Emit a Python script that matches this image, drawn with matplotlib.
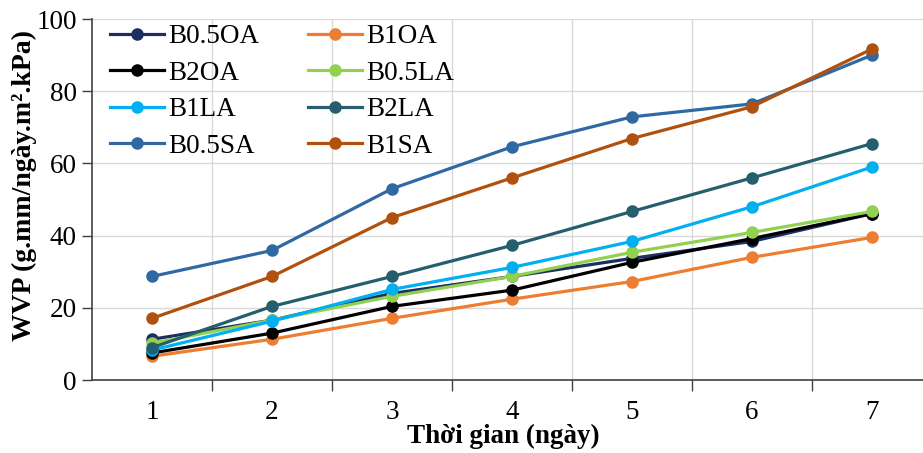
import numpy as np
import matplotlib
matplotlib.use("Agg")
import matplotlib.pyplot as plt

plt.rcParams['font.family'] = ['Liberation Serif', 'DejaVu Serif']

# Ngày đo và giá trị WVP của từng mẫu màng
days = [1, 2, 3, 4, 5, 6, 7]
series_names = ['B0.5OA', 'B1OA', 'B2OA', 'B0.5LA', 'B1LA', 'B2LA', 'B0.5SA', 'B1SA']

b05oa = [11.3, 16.6, 24.0, 28.7, 33.7, 38.4, 46.1]
b1oa = [6.6, 11.3, 17.1, 22.4, 27.3, 34.0, 39.5]
b2oa = [7.5, 13.0, 20.4, 24.9, 32.6, 39.2, 46.1]
b05la = [10.2, 16.6, 23.2, 28.7, 35.4, 40.9, 46.7]
b1la = [8.3, 16.3, 25.1, 31.2, 38.4, 48.0, 59.0]
b2la = [9.0, 20.4, 28.7, 37.3, 46.7, 56.0, 65.5]
b05sa = [28.7, 35.9, 53.0, 64.6, 72.9, 76.5, 90.0]
b1sa = [17.1, 28.7, 45.0, 56.0, 66.9, 75.7, 91.7]

colors = ['#1B2F63', '#ED7D31', '#000000', '#92D050',
          '#00B0F0', '#255E6C', '#2E69A3', '#B0510F']

values = [b05oa, b1oa, b2oa, b05la, b1la, b2la, b05sa, b1sa]

fig = plt.figure(figsize=(9.23, 4.53), dpi=100)
ax = fig.add_axes([0.0997, 0.161, 0.91, 0.797])

x = np.arange(len(days))
lines = []
for name, vals, c in zip(series_names, values, colors):
    ln, = ax.plot(x, vals, '-o', color=c, lw=2.3, ms=8, label=name)
    lines.append(ln)

# trục danh mục kiểu Excel: vạch chia nằm giữa các ngày
ax.set_xlim(-0.5, len(days) - 0.5)
ax.set_ylim(0, 100)
ax.set_yticks(np.arange(0, 101, 20))
ax.set_xticks(x)
ax.set_xticklabels([str(d) for d in days])
ax.set_xticks(np.arange(0.5, len(days) - 0.5, 1), minor=True)
ax.tick_params(axis='x', which='major', length=0, pad=14, labelsize=19.5)
ax.tick_params(axis='x', which='minor', length=8, width=1, color='#404040', direction='out')
ax.tick_params(axis='y', length=7, width=1, color='#404040', direction='out', labelsize=19.5, pad=4)

ax.grid(axis='y', color='#D9D9D9', lw=1)
ax.grid(axis='x', which='minor', color='#D9D9D9', lw=1)
ax.set_axisbelow(True)

for s in ['top', 'right']:
    ax.spines[s].set_visible(False)
for s in ['left', 'bottom']:
    ax.spines[s].set_color('#404040')
    ax.spines[s].set_linewidth(1.2)

ax.set_xlabel('Thời gian (ngày)', fontsize=19.5, fontweight='bold')
ax.xaxis.set_label_coords(0.49, -0.12)
ax.set_ylabel('WVP (g.mm/ngày.m².kPa)', fontsize=20, fontweight='bold')
ax.yaxis.set_label_coords(-0.066, 0.54)

# chú giải 2 cột, xếp theo hàng
order = [0, 2, 4, 6, 1, 3, 5, 7]
ax.legend([lines[i] for i in order], [series_names[i] for i in order],
          ncol=2, loc='upper left', bbox_to_anchor=(0.002, 1.03),
          frameon=False, fontsize=19.5, handlelength=2.0, handletextpad=0.15,
          columnspacing=1.8, labelspacing=0.42, borderaxespad=0.2)

fig.savefig('out.png', dpi=100)
